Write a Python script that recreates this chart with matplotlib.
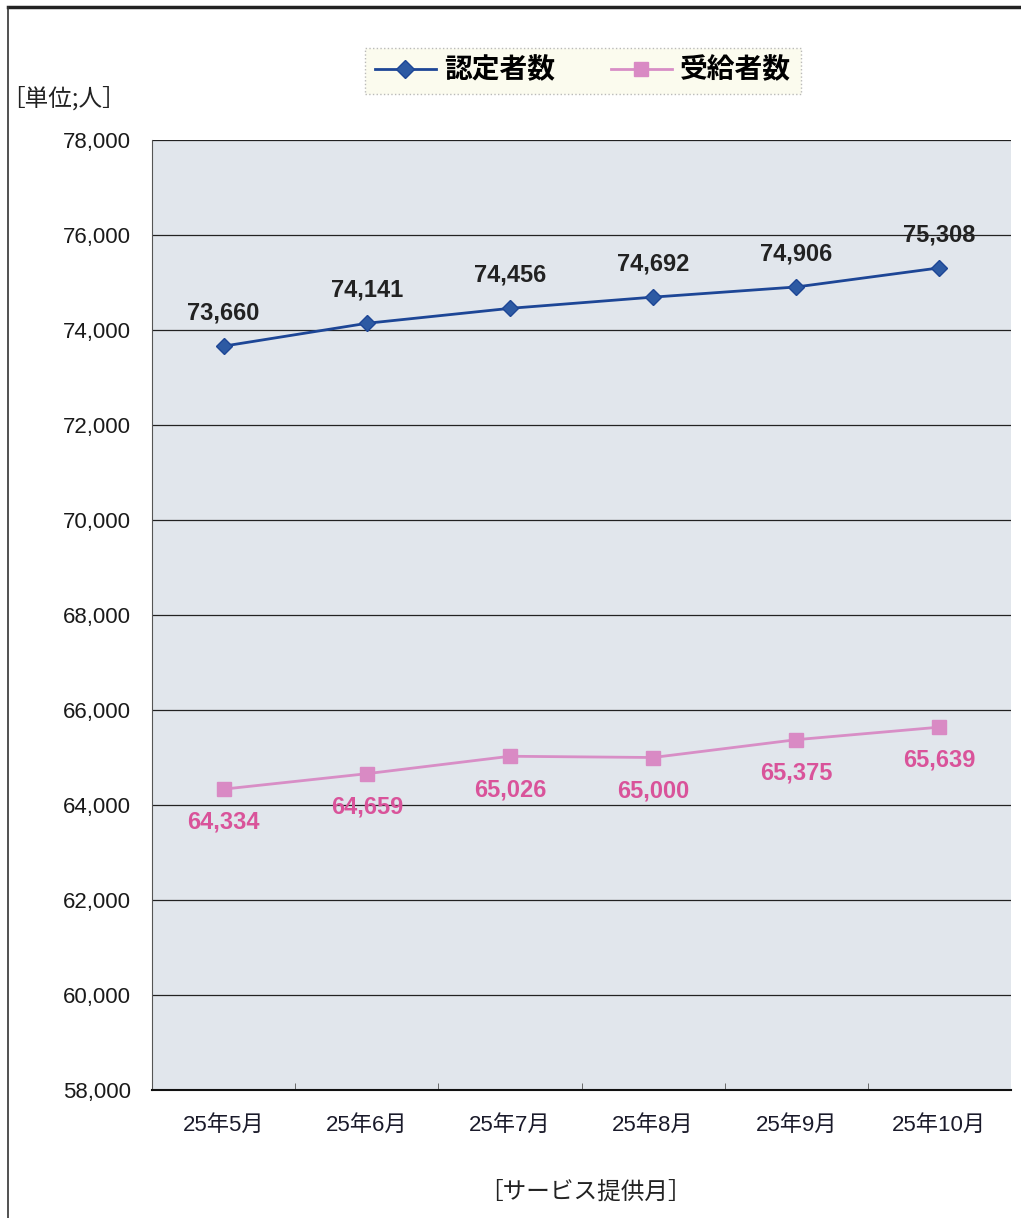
import matplotlib
matplotlib.use("Agg")
import matplotlib.pyplot as plt
from matplotlib.lines import Line2D

plt.rcParams['font.family'] = ['Liberation Sans', 'Noto Sans CJK JP', 'DejaVu Sans']

months = ["25年5月", "25年6月", "25年7月", "25年8月", "25年9月", "25年10月"]
nintei = [73660, 74141, 74456, 74692, 74906, 75308]
jukyu = [64334, 64659, 65026, 65000, 65375, 65639]
series_names = ["認定者数", "受給者数"]
yticks = list(range(58000, 78001, 2000))

W, H = 1021, 1218
fig = plt.figure(figsize=(W / 100, H / 100), dpi=100)
fig.patch.set_facecolor('white')

ax = fig.add_axes([152 / W, 1 - 1090 / H, (1011 - 152) / W, (1090 - 140) / H])
ax.set_facecolor('#e1e6ec')

x = list(range(len(months)))
blue_line = '#1d4696'
blue_mk = '#2d5aa3'
pink_line = '#d88ec6'
pink_mk = '#d98ac4'
pink_txt = '#d9539a'

ax.plot(x, nintei, color=blue_line, lw=2, marker='D', ms=8,
        markerfacecolor=blue_mk, markeredgecolor=blue_line, zorder=4)
ax.plot(x, jukyu, color=pink_line, lw=2, marker='s', ms=10,
        markerfacecolor=pink_mk, markeredgecolor=pink_mk, zorder=4)

for xi, v in zip(x, nintei):
    ax.annotate(f"{v:,}", (xi, v), xytext=(0, 24), textcoords='offset points',
                ha='center', va='center', fontsize=17, fontweight='bold',
                color='#222222', zorder=5)
for xi, v in zip(x, jukyu):
    ax.annotate(f"{v:,}", (xi, v), xytext=(0, -24), textcoords='offset points',
                ha='center', va='center', fontsize=17, fontweight='bold',
                color=pink_txt, zorder=5)

ax.set_xlim(-0.5, len(months) - 0.5)
ax.set_ylim(58000, 78000)
ax.set_yticks(yticks)
ax.set_yticklabels([f"{t:,}" for t in yticks], fontsize=16)
ax.set_xticks(x)
ax.set_xticklabels(months, fontsize=16)
ax.tick_params(axis='x', length=0, pad=18, colors='#1a1a2a')
ax.tick_params(axis='y', length=0, pad=15, colors='#1a1a1a')
ax.set_xticks([i + 0.5 for i in range(len(months) - 1)], minor=True)
ax.tick_params(axis='x', which='minor', direction='in', length=5, color='#555555')
ax.yaxis.grid(True, color='#222222', lw=0.9)
ax.set_axisbelow(True)
for s in ['top', 'right']:
    ax.spines[s].set_visible(False)
ax.spines['left'].set_color('#555555')
ax.spines['left'].set_linewidth(0.8)
ax.spines['bottom'].set_color('#111111')
ax.spines['bottom'].set_linewidth(1.5)

# legend
handles = [
    Line2D([0], [0], color=blue_line, lw=2, marker='D', ms=9,
           markerfacecolor=blue_mk, markeredgecolor=blue_line),
    Line2D([0], [0], color=pink_line, lw=2, marker='s', ms=10,
           markerfacecolor=pink_mk, markeredgecolor=pink_mk),
]
leg = fig.legend(handles, series_names, loc='center', ncol=2,
                 bbox_to_anchor=(583 / W, 1 - 71 / H),
                 prop={'size': 20, 'weight': 'bold'}, frameon=True,
                 fancybox=False, handlelength=2.2, columnspacing=2.0,
                 borderpad=0.35, handletextpad=0.3)
leg.get_frame().set_facecolor('#fbfbea')
leg.get_frame().set_edgecolor('#aaaaaa')
leg.get_frame().set_linestyle(':')
leg.get_frame().set_linewidth(1.0)

cjk = ['Noto Sans CJK JP', 'DejaVu Sans']
fig.text(1 / W, 1 - 98 / H, "［単位;人］", fontsize=17, ha='left', va='center',
         color='#222222', family=cjk)
fig.text(585 / W, 1 - 1192 / H, "［サービス提供月］", fontsize=17, ha='center',
         va='center', color='#222222', family=cjk)

# outer frame
fig.add_artist(Line2D([8 / W, 1.0], [1 - 7 / H, 1 - 7 / H], color='#222222', lw=2.5,
                      transform=fig.transFigure))
fig.add_artist(Line2D([8 / W, 8 / W], [1 - 7 / H, 0.0], color='#333333', lw=1.2,
                      transform=fig.transFigure))

fig.savefig("out.png", dpi=100)
